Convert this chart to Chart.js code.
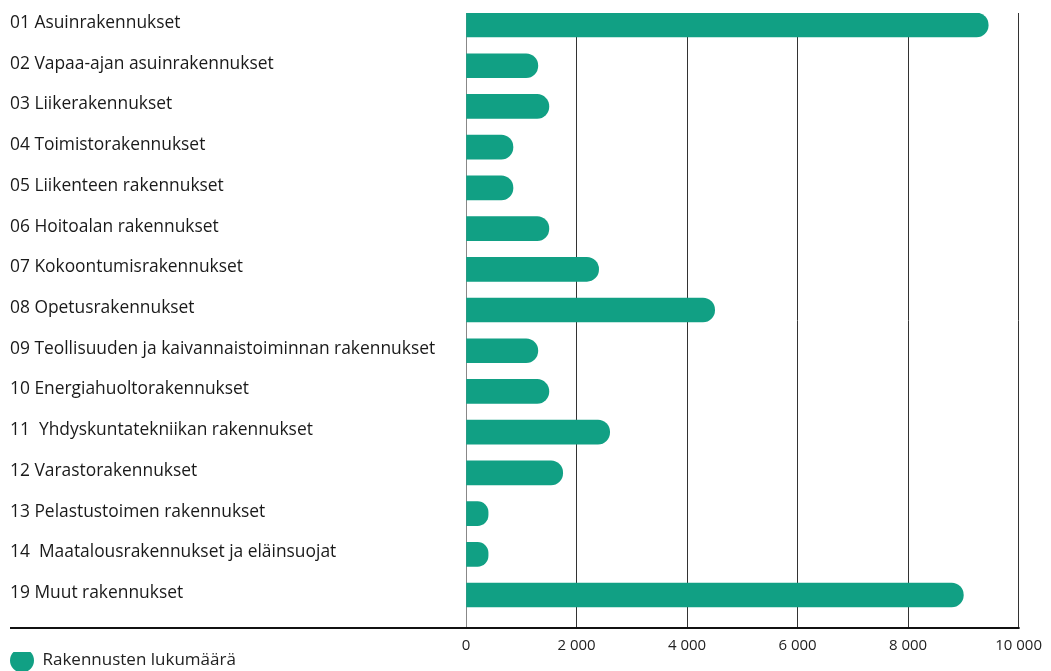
<!DOCTYPE html>
<html>
<head>
<meta charset="utf-8">
<script src="https://cdn.jsdelivr.net/npm/chart.js@4.4.1/dist/chart.umd.min.js"></script>
<style>
  html, body { margin: 0; padding: 0; background: #fff; }
  #wrap { width: 1051px; height: 671px; }
</style>
</head>
<body>
<div id="wrap"><canvas id="myChart"></canvas></div>
<script>
// rakennusluokat ja rakennusten lukumäärä
const categories = [
    '01 Asuinrakennukset',
    '02 Vapaa-ajan asuinrakennukset',
    '03 Liikerakennukset',
    '04 Toimistorakennukset',
    '05 Liikenteen rakennukset',
    '06 Hoitoalan rakennukset',
    '07 Kokoontumisrakennukset',
    '08 Opetusrakennukset',
    '09 Teollisuuden ja kaivannaistoiminnan rakennukset',
    '10 Energiahuoltorakennukset',
    '11  Yhdyskuntatekniikan rakennukset',
    '12 Varastorakennukset',
    '13 Pelastustoimen rakennukset',
    '14  Maatalousrakennukset ja eläinsuojat',
    '19 Muut rakennukset'
];
const counts = [9450, 1300, 1500, 850, 850, 1500, 2400, 4500, 1300, 1500, 2600, 1750, 400, 400, 9000];
const xTicks = [0, 2000, 4000, 6000, 8000, 10000];
const seriesLabel = 'Rakennusten lukumäärä';

const green = '#11a084';
const fontName = '"Open Sans", sans-serif';

// musta akseliviiva alas, alkaa luokkien tekstien kohdalta
const axisLine = {
    id: 'axisLine',
    afterDraw(chart) {
        const c = chart.ctx;
        const area = chart.chartArea;
        c.save();
        c.strokeStyle = '#111';
        c.lineWidth = 2;
        c.beginPath();
        c.moveTo(chart.scales.y.left, area.bottom);
        c.lineTo(area.right + 1, area.bottom);
        c.stroke();
        c.restore();
    }
};

const ctx = document.getElementById('myChart').getContext('2d');
const myChart = new Chart(ctx, {
    type: 'bar',
    data: {
        datasets: [{
            label: seriesLabel,
            data: counts.map((v, i) => ({ x: v, y: i })),
            backgroundColor: green,
            borderWidth: 0,
            borderRadius: 12,
            borderSkipped: 'start',
            barThickness: 24
        }]
    },
    options: {
        indexAxis: 'y',
        responsive: true,
        maintainAspectRatio: false,
        animation: false,
        layout: {
            padding: { left: 10, top: 13, right: 30, bottom: -8 }
        },
        scales: {
            x: {
                type: 'linear',
                min: 0,
                max: 10000,
                afterBuildTicks: (scale) => {
                    scale.ticks = xTicks.map(v => ({ value: v }));
                },
                afterFit: (scale) => { scale.height = 24; },
                grid: {
                    color: (c) => c.tick && c.tick.value === 0 ? '#888' : '#333',
                    lineWidth: 1,
                    drawTicks: false
                },
                border: { display: false },
                ticks: {
                    padding: 9,
                    color: '#222',
                    font: { family: fontName, size: 15 },
                    callback: (v) => v.toLocaleString('fi-FI').replace(/\s/g, ' ')
                }
            },
            y: {
                // rivit numeroina, jotta ylä- ja alareunan väli saadaan kohdalleen
                type: 'linear',
                reverse: true,
                offset: false,
                bounds: 'data',
                min: -0.295,
                max: 14.81,
                afterBuildTicks: (scale) => {
                    scale.ticks = categories.map((c, i) => ({ value: i }));
                },
                afterFit: (scale) => { scale.width = 456; },
                grid: { display: false },
                border: { display: false },
                ticks: {
                    autoSkip: false,
                    crossAlign: 'far',
                    padding: 0,
                    labelOffset: -2,
                    color: '#1a1a1a',
                    font: { family: fontName, size: 17.4 },
                    callback: (v) => categories[v] || ''
                }
            }
        },
        plugins: {
            legend: {
                position: 'bottom',
                align: 'start',
                labels: {
                    usePointStyle: true,
                    pointStyle: 'circle',
                    pointStyleWidth: 24,
                    boxHeight: 17,
                    color: '#222',
                    padding: 0,
                    font: { family: fontName, size: 17 }
                }
            },
            tooltip: { enabled: false }
        }
    },
    plugins: [axisLine]
});
</script>
</body>
</html>
